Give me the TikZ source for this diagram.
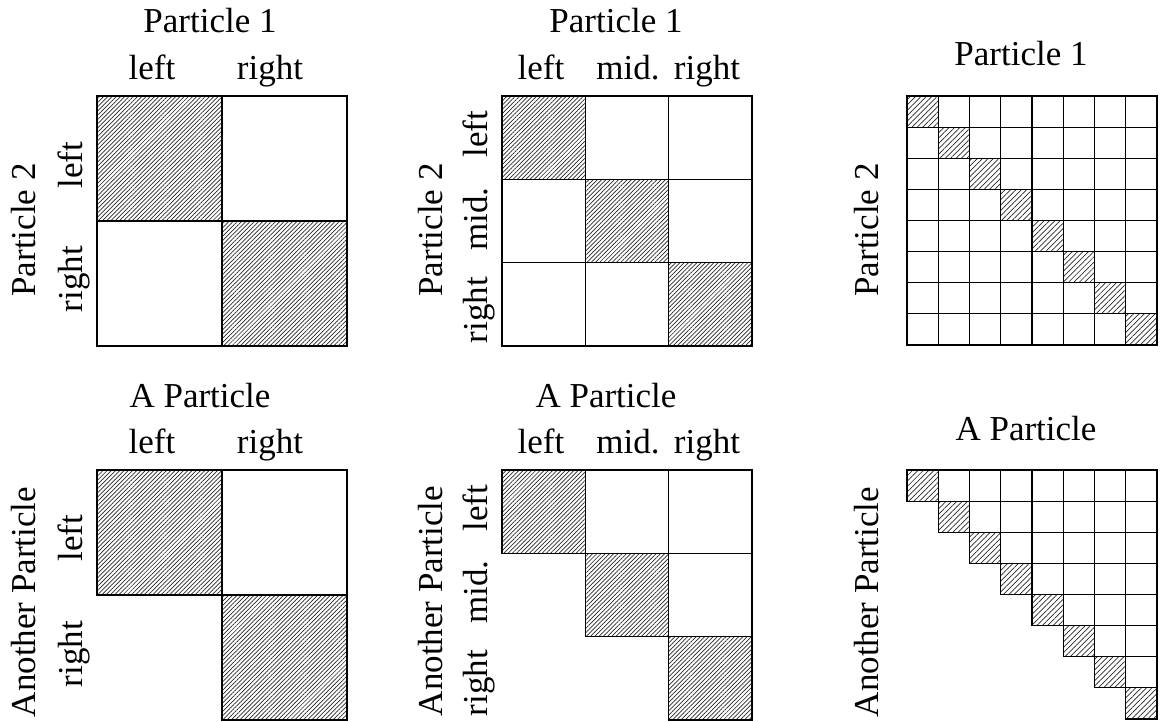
\documentclass[tikz,border=0pt]{standalone}
\usepackage{fontspec}
\setmainfont{Liberation Serif}
\usetikzlibrary{patterns.meta}
\begin{document}
\begin{tikzpicture}[x=1pt,y=-1pt,
  lbl/.style={font=\fontsize{35}{40}\selectfont, anchor=base, inner sep=0pt},
  vlbl/.style={lbl, rotate=90},
  cell/.style={draw=black, line width=1.1pt},
  bighatch/.style={pattern={Lines[angle=45,distance=3pt,line width=0.7pt]}, pattern color=black!85},
  smallhatch/.style={pattern={Lines[angle=45,distance=3.8pt,line width=0.7pt]}, pattern color=black!85}]
\useasboundingbox (0,0) rectangle (1165,722);

% ---- 2x2 full matrix ----
\foreach \i in {0,1} \foreach \j in {0,1}
  \draw[cell] (97+125*\j, 96+125*\i) rectangle ++(125,125);
\foreach \k in {0,1}
  \draw[cell,bighatch] (97+125*\k, 96+125*\k) rectangle ++(125,125);
\node[lbl] (tlT) at (210,33) {Particle 1};
\node[lbl] (tlA) at (152,80) {left};
\node[lbl] (tlB) at (270,80) {right};
\node[vlbl] (tlV) at (35,230) {Particle 2};
\node[vlbl] (tlC) at (82,165) {left};
\node[vlbl] (tlD) at (82,279) {right};

% ---- 3x3 full matrix ----
\foreach \i in {0,1,2} \foreach \j in {0,1,2}
  \draw[cell] (502+83.333*\j, 96+83.333*\i) rectangle ++(83.333,83.333);
\foreach \k in {0,1,2}
  \draw[cell,bighatch] (502+83.333*\k, 96+83.333*\k) rectangle ++(83.333,83.333);
\node[lbl] (tmT) at (616,33) {Particle 1};
\node[lbl] (tmA) at (541,80) {left};
\node[lbl] (tmB) at (628,80) {mid.};
\node[lbl] (tmC) at (707,80) {right};
\node[vlbl] (tmV) at (442,230) {Particle 2};
\node[vlbl] (tmD) at (487,134) {left};
\node[vlbl] (tmE) at (487,219) {mid.};
\node[vlbl] (tmF) at (487,310) {right};

% ---- 8x8 full matrix ----
\foreach \i in {0,...,7} \foreach \j in {0,...,7}
  \draw[cell] (907+31.25*\j, 96+31.125*\i) rectangle ++(31.25,31.125);
\foreach \k in {0,...,7}
  \draw[cell,smallhatch] (907+31.25*\k, 96+31.125*\k) rectangle ++(31.25,31.125);
\node[lbl] (trT) at (1021,66) {Particle 1};
\node[vlbl] (trV) at (878,230) {Particle 2};

% ---- 2x2 upper triangle ----
\foreach \i in {0,1} \foreach \j in {\i,...,1}
  \draw[cell] (97+125*\j, 470+125*\i) rectangle ++(125,125);
\foreach \k in {0,1}
  \draw[cell,bighatch] (97+125*\k, 470+125*\k) rectangle ++(125,125);
\node[lbl] (blT) at (200,407) {A Particle};
\node[lbl] (blA) at (152,453) {left};
\node[lbl] (blB) at (270,453) {right};
\node[vlbl] (blV) at (35,602) {Another Particle};
\node[vlbl] (blC) at (82,538) {left};
\node[vlbl] (blD) at (82,654) {right};

% ---- 3x3 upper triangle ----
\foreach \i in {0,1,2} \foreach \j in {\i,...,2}
  \draw[cell] (502+83.333*\j, 470+83.333*\i) rectangle ++(83.333,83.333);
\foreach \k in {0,1,2}
  \draw[cell,bighatch] (502+83.333*\k, 470+83.333*\k) rectangle ++(83.333,83.333);
\node[lbl] (bmT) at (606,407) {A Particle};
\node[lbl] (bmA) at (541,453) {left};
\node[lbl] (bmB) at (628,453) {mid.};
\node[lbl] (bmC) at (707,453) {right};
\node[vlbl] (bmV) at (442,601) {Another Particle};
\node[vlbl] (bmD) at (487,508) {left};
\node[vlbl] (bmE) at (487,592) {mid.};
\node[vlbl] (bmF) at (487,683) {right};

% ---- 8x8 upper triangle ----
\foreach \i in {0,...,7} \foreach \j in {\i,...,7}
  \draw[cell] (907+31.25*\j, 470+31.125*\i) rectangle ++(31.25,31.125);
\foreach \k in {0,...,7}
  \draw[cell,smallhatch] (907+31.25*\k, 470+31.125*\k) rectangle ++(31.25,31.125);
\node[lbl] (brT) at (1026,440) {A Particle};
\node[vlbl] (brV) at (878,602) {Another Particle};
\end{tikzpicture}
\end{document}
